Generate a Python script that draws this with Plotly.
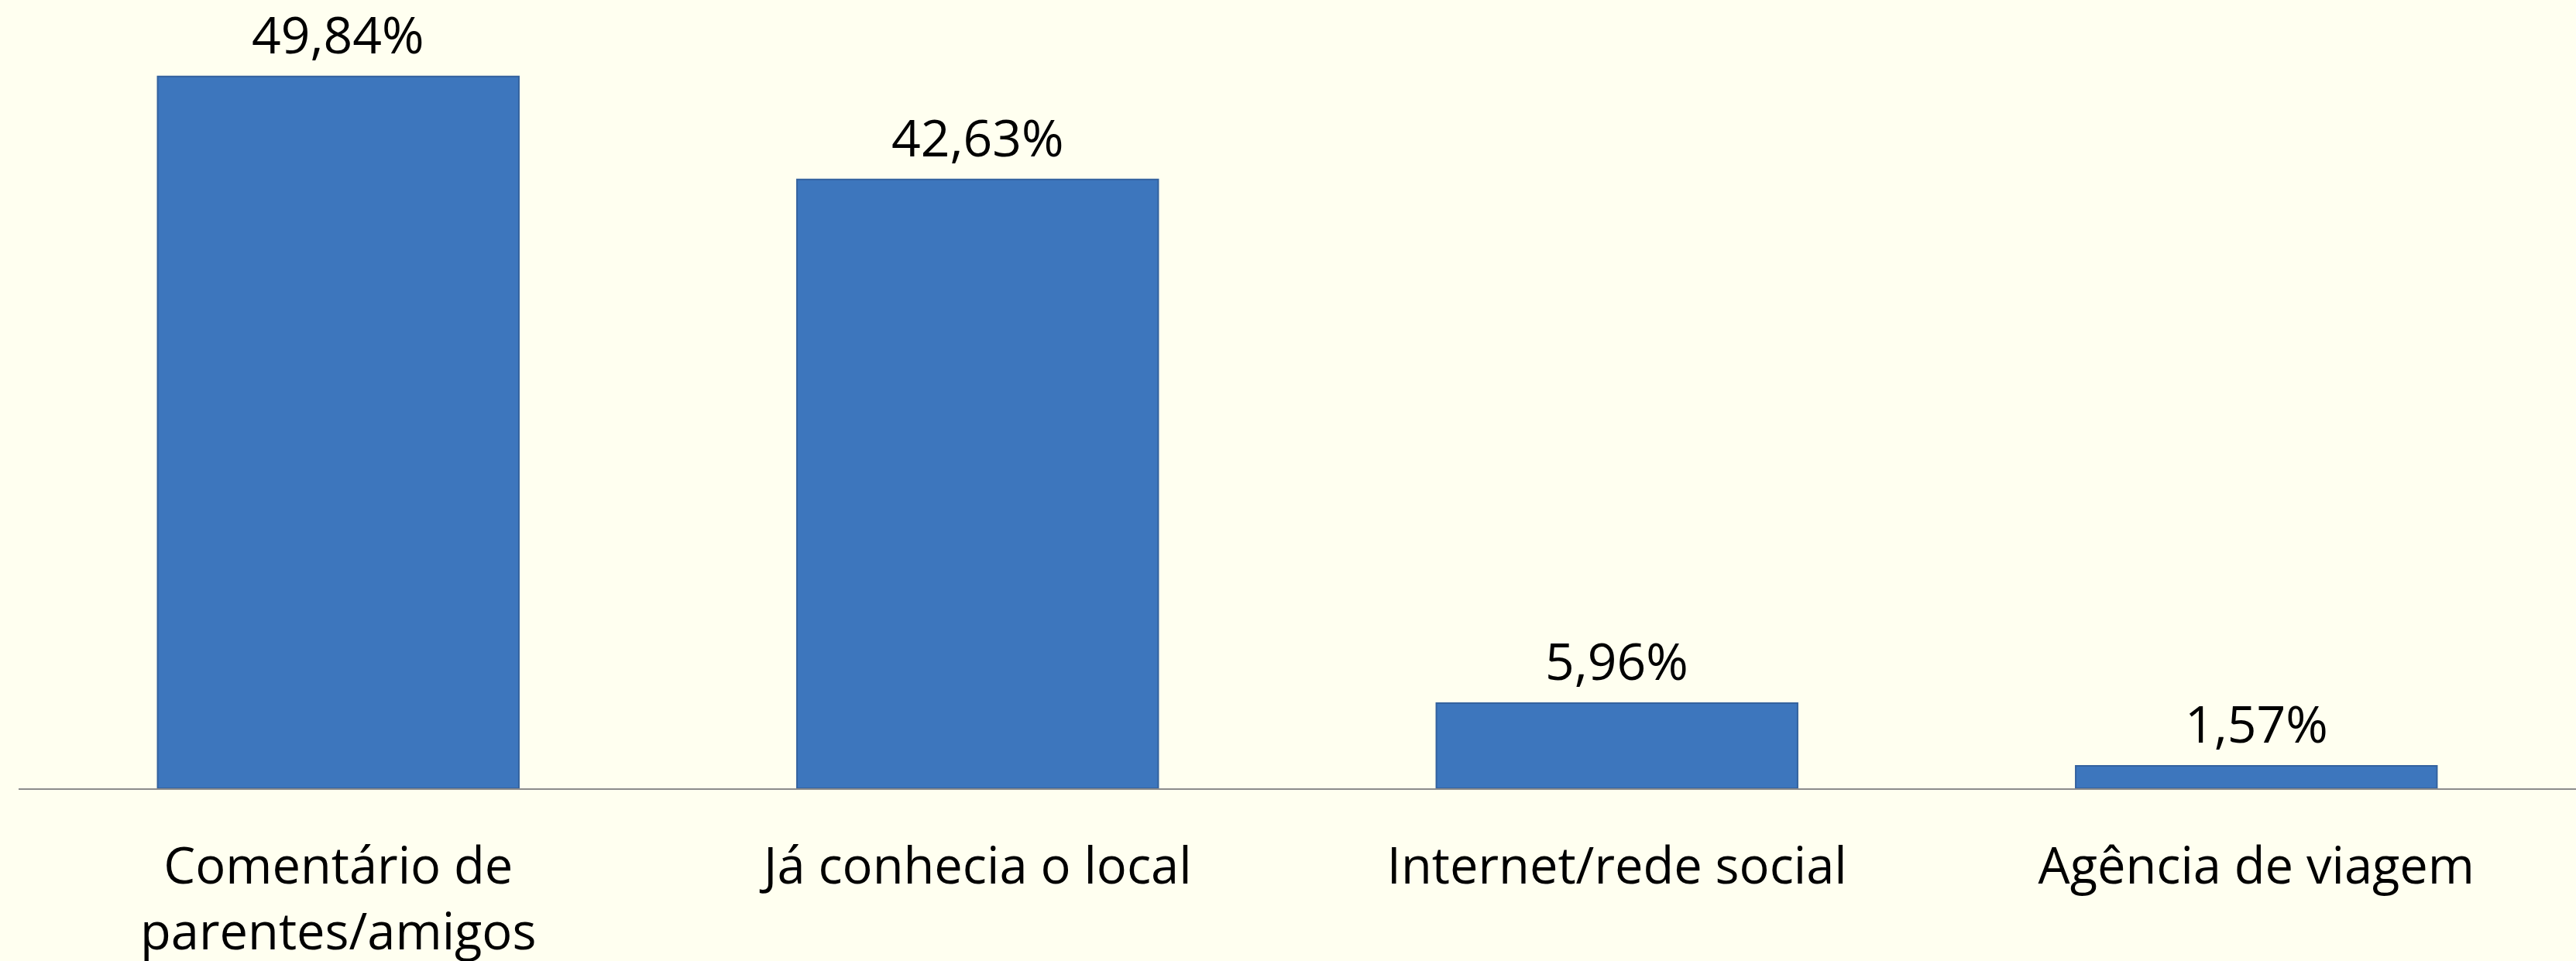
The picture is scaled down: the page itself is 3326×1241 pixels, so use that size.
import plotly.graph_objects as go

categories = ["Comentário de<br>parentes/amigos", "Já conhecia o local", "Internet/rede social", "Agência de viagem"]
values = [49.84, 42.63, 5.96, 1.57]
value_labels = ["49,84%", "42,63%", "5,96%", "1,57%"]

FONT = "Open Sans"
fig = go.Figure()
fig.add_trace(go.Bar(
    x=categories, y=values,
    marker=dict(color="#3D76BD", line=dict(color="#34629E", width=2)),
    width=0.565,
    hoverinfo="skip",
))
for c, v, t in zip(categories, values, value_labels):
    fig.add_annotation(x=c, y=v, text=t, showarrow=False, yanchor="bottom",
                       yshift=9, font=dict(family=FONT, size=66, color="#000000"))

fig.update_layout(
    width=3326, height=1241,
    margin=dict(l=24, r=0, t=0, b=223),
    paper_bgcolor="#FFFFF0", plot_bgcolor="#FFFFF0",
    showlegend=False,
    font=dict(family=FONT, size=65, color="#000000"),
)
fig.update_xaxes(showline=True, linecolor="#8C8C8C", linewidth=2, ticks="outside",
                 ticklen=43, tickcolor="rgba(0,0,0,0)", showgrid=False, automargin=False,
                 tickfont=dict(family=FONT, size=65, color="#000000"))
fig.update_yaxes(range=[0, 55.2], visible=False, showgrid=False, zeroline=False, automargin=False)
fig.write_html("out.html", config={"displayModeBar": False},
               post_script="document.body.style.margin='0';document.body.style.overflow='hidden';")
